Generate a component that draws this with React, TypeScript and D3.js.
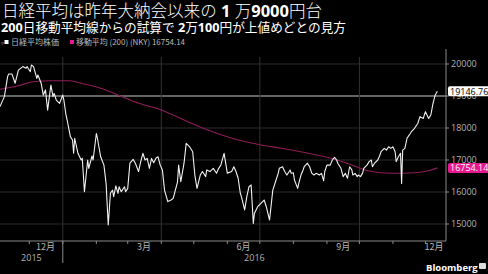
import React from "react";
import * as d3 from "d3";

const titleText = ["日経平均は昨年大納会以来の", "1", "万", "9000", "円台"];
const subtitleText = ["200", "日移動平均線からの試算で", "2", "万", "100", "円が上値めどとの見方"];
const legendNames = ["日経平均株価", "移動平均 (200) (NKY) 16754.14"];
const yTicks = [15000, 16000, 17000, 18000, 19000, 20000];
const refLevel = 19000;
const lastPrice = 19146.76;
const lastMA = 16754.14;

const nkyDates = [
  "2015-11-04","2015-11-08","2015-11-11","2015-11-12","2015-11-15","2015-11-18","2015-11-21","2015-11-25","2015-11-28","2015-11-29",
  "2015-12-02","2015-12-03","2015-12-05","2015-12-08","2015-12-09","2015-12-12","2015-12-14","2015-12-16","2015-12-18","2015-12-21",
  "2015-12-23","2015-12-24","2015-12-26","2015-12-29","2016-01-01","2016-01-02","2016-01-04","2016-01-05","2016-01-08","2016-01-10",
  "2016-01-11","2016-01-12","2016-01-15","2016-01-18","2016-01-19","2016-01-21","2016-01-24","2016-01-25","2016-01-28","2016-01-29",
  "2016-02-01","2016-02-02","2016-02-05","2016-02-08","2016-02-10","2016-02-12","2016-02-14","2016-02-16","2016-02-17","2016-02-19",
  "2016-02-21","2016-02-22","2016-02-24","2016-02-25","2016-02-27","2016-02-28","2016-03-01","2016-03-03","2016-03-06","2016-03-08",
  "2016-03-11","2016-03-13","2016-03-15","2016-03-17","2016-03-19","2016-03-21","2016-03-23","2016-03-25","2016-03-27","2016-03-29",
  "2016-03-31","2016-04-02","2016-04-04","2016-04-07","2016-04-10","2016-04-12","2016-04-16","2016-04-17","2016-04-19","2016-04-22",
  "2016-04-24","2016-04-27","2016-04-30","2016-05-02","2016-05-04","2016-05-07","2016-05-09","2016-05-12","2016-05-13","2016-05-16",
  "2016-05-19","2016-05-22","2016-05-24","2016-05-26","2016-05-29","2016-06-01","2016-06-05","2016-06-07","2016-06-09","2016-06-11",
  "2016-06-13","2016-06-14","2016-06-17","2016-06-19","2016-06-21","2016-06-23","2016-06-25","2016-06-26","2016-06-29","2016-07-02",
  "2016-07-05","2016-07-07","2016-07-10","2016-07-13","2016-07-16","2016-07-18","2016-07-19","2016-07-22","2016-07-24","2016-07-26",
  "2016-07-29","2016-07-30","2016-08-01","2016-08-02","2016-08-05","2016-08-06","2016-08-08","2016-08-10","2016-08-11","2016-08-14",
  "2016-08-16","2016-08-18","2016-08-20","2016-08-22","2016-08-25","2016-08-27","2016-08-29","2016-08-30","2016-09-01","2016-09-04",
  "2016-09-06","2016-09-08","2016-09-10","2016-09-11","2016-09-14","2016-09-16","2016-09-18","2016-09-20","2016-09-22","2016-09-24",
  "2016-09-25","2016-09-27","2016-09-29","2016-09-30","2016-10-02","2016-10-04","2016-10-05","2016-10-08","2016-10-10","2016-10-12",
  "2016-10-13","2016-10-15","2016-10-18","2016-10-20","2016-10-21","2016-10-24","2016-10-26","2016-10-28","2016-10-30","2016-11-01",
  "2016-11-03","2016-11-04","2016-11-06","2016-11-08","2016-11-09","2016-11-10","2016-11-12","2016-11-14","2016-11-15","2016-11-17",
  "2016-11-18","2016-11-21","2016-11-24","2016-11-26","2016-11-29","2016-12-01","2016-12-04","2016-12-06","2016-12-08","2016-12-10",
  "2016-12-12"
];
const nkyValues = [
  18670,18980,19600,19690,19690,19400,19810,19920,19865,19920,
  19760,19970,19920,19550,19656,19400,19030,19190,18560,19340,
  18980,19080,18875,18770,19030,18875,18400,18250,17730,17625,
  17210,17680,17210,17000,17053,16010,17000,16740,17125,17000,
  17830,17680,17100,16840,16270,14970,15960,16060,15855,16190,
  15960,16165,16010,16060,16165,16010,16115,16900,17020,16900,
  16640,16950,17210,17000,17053,16740,17050,16916,17053,17100,
  16840,16690,16060,15700,15750,15800,16320,16840,16320,16900,
  17520,17420,17260,16530,16115,16530,16640,16480,16690,16640,
  16740,16584,16740,16840,17210,16590,16640,16790,16640,16430,
  15960,15855,15440,15855,16165,16220,15020,15330,15540,15645,
  15750,15540,15125,16060,16375,16584,16740,16790,16640,16530,
  16690,16584,16603,16375,16115,16270,16530,16690,16790,16900,
  16790,16590,16530,16584,16530,16584,16350,16640,16840,16840,
  17000,17085,17000,16900,16740,16480,16584,16430,16790,16690,
  16530,16584,16480,16530,16480,16590,16740,16840,16950,17000,
  16790,16900,17000,17155,17260,17365,17310,17415,17365,17415,
  17260,16950,17100,17210,16270,17310,17365,17680,17730,17830,
  17885,17990,18150,18355,18300,18510,18300,18406,18770,19030,
  19147
];

const maDates = [
  "2015-11-04","2015-11-20","2015-12-05","2015-12-21","2016-01-08","2016-01-18","2016-02-05","2016-02-21",
  "2016-03-07","2016-04-01","2016-04-22","2016-05-14","2016-06-14","2016-07-02","2016-07-21","2016-08-15",
  "2016-09-05","2016-09-24","2016-10-09","2016-10-31","2016-11-21","2016-12-04","2016-12-12"
];
const maValues = [
  19210,19313,19447,19478,19478,19397,19241,19031,
  18822,18563,18250,17938,17600,17469,17366,17209,
  17053,16844,16666,16584,16603,16666,16754
];

const parse = d3.utcParse("%Y-%m-%d");
const CJK = "'Noto Sans CJK JP', sans-serif";
const LAT = "'Open Sans', 'Noto Sans CJK JP', sans-serif";

export default function App() {
  const W = 488, H = 274;
  const left = 0, right = 446, top = 57, bottom = 241;
  const x = d3.scaleUtc().domain([parse("2015-11-04")!, parse("2016-12-20")!]).range([left, right]);
  const y = d3.scaleLinear().domain([14469, 20219]).range([bottom, top]);

  const nky = nkyDates.map((d, i) => ({ d: parse(d)!, v: nkyValues[i] }));
  const ma = maDates.map((d, i) => ({ d: parse(d)!, v: maValues[i] }));
  const line = d3.line<{ d: Date; v: number }>().x(p => x(p.d)).y(p => y(p.v));
  const maLine = d3.line<{ d: Date; v: number }>().x(p => x(p.d)).y(p => y(p.v)).curve(d3.curveMonotoneX);

  const [d0, d1] = x.domain();
  const months = d3.utcMonth.range(d3.utcMonth.ceil(d0), d1);
  const quarters = months.filter(m => m.getUTCMonth() % 3 === 0);
  const labelMonths = d3.utcMonth.range(d3.utcMonth.floor(d0), d1).filter(m => m.getUTCMonth() % 3 === 2);
  const years = d3.utcYear.range(d3.utcYear.ceil(d0), d1);
  const yearSpans = [d3.utcYear.floor(d0), ...years].map((yr, i, arr) => {
    const a = Math.max(x(yr), left);
    const nxt = i + 1 < arr.length ? x(arr[i + 1]) : right;
    return { yr, cx: (a + Math.min(nxt, right)) / 2 };
  });

  return (
    <svg width={W} height={H} style={{ position: "absolute", left: 0, top: 0, background: "#000" }}>
      <defs>
        <clipPath id="plot"><rect x={left} y={top - 6} width={right - left} height={bottom - top + 6} /></clipPath>
      </defs>
      <rect x={0} y={0} width={W} height={H} fill="#000" />
      {/* Title */}
      <text x={2} y={17} fill="#fff" fontSize={16.5} textLength={320} lengthAdjust="spacingAndGlyphs" fontFamily={CJK}>
        <tspan fontWeight={300}>{titleText[0]}</tspan>
        <tspan fontFamily={LAT} fontWeight={700}>{" " + titleText[1] + " "}</tspan>
        <tspan fontWeight={300}>{titleText[2]}</tspan>
        <tspan fontFamily={LAT} fontWeight={700}>{titleText[3]}</tspan>
        <tspan fontWeight={300}>{titleText[4]}</tspan>
      </text>
      <text x={1} y={31.5} fill="#fff" fontSize={13} textLength={345} lengthAdjust="spacingAndGlyphs" fontFamily={CJK}>
        <tspan fontFamily={LAT} fontWeight={700}>{subtitleText[0]}</tspan>
        <tspan fontWeight={400}>{subtitleText[1]}</tspan>
        <tspan fontFamily={LAT} fontWeight={700}>{" " + subtitleText[2]}</tspan>
        <tspan fontWeight={400}>{subtitleText[3]}</tspan>
        <tspan fontFamily={LAT} fontWeight={700}>{subtitleText[4]}</tspan>
        <tspan fontWeight={400}>{subtitleText[5]}</tspan>
      </text>
      {/* Legend */}
      <text x={1} y={45} fill="#999" fontSize={6} fontFamily={CJK}>▿</text>
      <rect x={4.5} y={40} width={4} height={4} fill="#fff" />
      <text x={11} y={45} fill="#bbb" fontSize={8} fontFamily={CJK}>{legendNames[0]}</text>
      <rect x={70} y={40} width={4} height={4} fill="#e8188e" />
      <text x={76} y={45} fill="#bbb" fontSize={8} textLength={109} lengthAdjust="spacingAndGlyphs" fontFamily={CJK}>{legendNames[1]}</text>

      {/* grid */}
      {yTicks.map(t => (
        <line key={"h" + t} x1={left} x2={right} y1={y(t)} y2={y(t)} stroke={t === refLevel ? "#c8c8c8" : "#2b2b2b"} strokeWidth={1} />
      ))}
      {quarters.map(q => (
        <line key={"v" + +q} x1={x(q)} x2={x(q)} y1={top} y2={bottom} stroke="#333" strokeWidth={1} />
      ))}

      {/* series */}
      <g clipPath="url(#plot)">
        <path d={maLine(ma)!} fill="none" stroke="#8e1d57" strokeWidth={1.1} />
        <path d={line(nky)!} fill="none" stroke="#f2f2f2" strokeWidth={1.1} strokeLinejoin="round" />
      </g>

      {/* axes */}
      <line x1={left} x2={right} y1={bottom} y2={bottom} stroke="#8a8a8a" />
      <line x1={right} x2={right} y1={49} y2={bottom} stroke="#8a8a8a" />
      {yTicks.map(t => (
        <g key={"yt" + t}>
          <line x1={right} x2={right + 3} y1={y(t)} y2={y(t)} stroke="#8a8a8a" />
          <text x={right + 5} y={y(t) + 3.3} fill="#b5b5b5" fontSize={9} fontFamily={LAT}>{t}</text>
        </g>
      ))}
      {months.map(m => (
        <line key={"mt" + +m} x1={x(m)} x2={x(m)} y1={bottom} y2={bottom + 3} stroke="#8a8a8a" />
      ))}
      {years.map(yr => (
        <line key={"yr" + +yr} x1={x(yr)} x2={x(yr)} y1={bottom} y2={263} stroke="#8a8a8a" />
      ))}
      {labelMonths.map(m => {
        const mid = d3.utcDay.offset(m, 15);
        const cx = Math.min(x(mid), right - 12);
        return (
          <text key={"ml" + +m} x={cx} y={250} fill="#b5b5b5" fontSize={9} textAnchor="middle" fontFamily={CJK}>
            {`${m.getUTCMonth() + 1}月`}
          </text>
        );
      })}
      {yearSpans.map(s => (
        <text key={"yl" + +s.yr} x={s.cx} y={261} fill="#b5b5b5" fontSize={9} textAnchor="middle" fontFamily={LAT}>
          {s.yr.getUTCFullYear()}
        </text>
      ))}

      {/* value labels */}
      <rect x={right + 2} y={y(lastPrice) - 5} width={44} height={10} rx={2} fill="#fff" />
      <text x={right + 4} y={y(lastPrice) + 3.3} fill="#000" fontSize={9} fontFamily={LAT}>{lastPrice.toFixed(2)}</text>
      <rect x={right + 2} y={y(lastMA) - 5} width={44} height={10} rx={2} fill="#e8188e" />
      <text x={right + 4} y={y(lastMA) + 3.3} fill="#fff" fontSize={9} fontFamily={LAT}>{lastMA.toFixed(2)}</text>

      {/* source */}
      <text x={426} y={271} fill="#fff" fontSize={9.5} fontWeight={700} fontFamily={LAT}>Bloomberg</text>
      <rect x={479} y={263} width={7} height={6} rx={1} fill="#ddd" />
    </svg>
  );
}
